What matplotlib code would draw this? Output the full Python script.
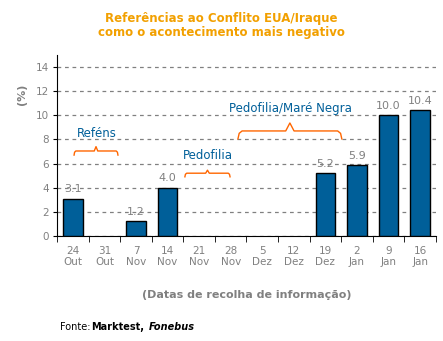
import numpy as np
import matplotlib.pyplot as plt

datas = ["24\nOut", "31\nOut", "7\nNov", "14\nNov", "21\nNov", "28\nNov",
         "5\nDez", "12\nDez", "19\nDez", "2\nJan", "9\nJan", "16\nJan"]
valores = [3.1, 0, 1.2, 4.0, 0, 0, 0, 0, 5.2, 5.9, 10.0, 10.4]

grey = "#808080"
blue = "#005f99"
orange = "#ff6600"

fig = plt.figure(figsize=(4.43, 3.41), dpi=100)
ax = fig.add_axes([0.1287, 0.308, 0.8553, 0.531])

x = np.arange(len(valores))
larguras = [1 if v > 0 else 0 for v in valores]
ax.bar(x, valores, width=0.62, color=blue, edgecolor="black", linewidth=larguras, zorder=3)

for xi, v in zip(x, valores):
    if v > 0:
        ax.text(xi, v + 0.35, f"{v:.1f}", ha="center", va="bottom", color=grey, fontsize=8)

ax.set_xlim(-0.5, 11.5)
ax.set_ylim(0, 15)
ax.set_yticks(range(0, 15, 2))
ax.set_xticks(x)
ax.set_xticklabels(datas)
ax.set_xticks(np.arange(-0.5, 12, 1), minor=True)
ax.tick_params(axis="x", which="major", length=0, pad=7, labelsize=7.5, labelcolor=grey)
ax.tick_params(axis="x", which="minor", length=4, direction="out")
ax.tick_params(axis="y", length=3, labelsize=7.5, labelcolor=grey, pad=3)
ax.yaxis.grid(True, linestyle=(0, (3, 3)), color=grey, linewidth=0.9, zorder=0)
ax.spines["top"].set_visible(False)
ax.spines["right"].set_visible(False)

ax.set_ylabel("(%)", color=grey, fontsize=8, fontweight="bold")
ax.yaxis.set_label_coords(-0.08, 0.78)
ax.set_xlabel("(Datas de recolha de informação)", color=grey, fontsize=8,
              fontweight="bold", labelpad=16)


def brace(x0, x1, yline, yend, ytip):
    xm = (x0 + x1) / 2
    d = (x1 - x0) * 0.04
    xs = [x0, x0 + d * 0.3, x0 + d, xm - d, xm, xm + d, x1 - d, x1 - d * 0.3, x1]
    ys = [yend, yline - (yline - yend) * 0.3, yline, yline, ytip, yline, yline,
          yline - (yline - yend) * 0.3, yend]
    ax.plot(xs, ys, color=orange, linewidth=1, zorder=4, clip_on=False)


brace(0.04, 1.43, 7.04, 6.7, 7.4)
ax.text(0.77, 8.5, "Reféns", color=blue, fontsize=8.5, ha="center", va="center")
brace(3.55, 4.98, 5.2, 4.9, 5.45)
ax.text(4.28, 6.7, "Pedofilia", color=blue, fontsize=8.5, ha="center", va="center")
brace(5.23, 8.52, 8.7, 8.04, 9.36)
ax.text(6.88, 10.6, "Pedofilia/Maré Negra", color=blue, fontsize=8.5, ha="center", va="center")

fig.text(0.5, 0.965, "Referências ao Conflito EUA/Iraque\ncomo o acontecimento mais negativo",
         color="#f2a000", fontsize=8.5, fontweight="bold", ha="center", va="top",
         linespacing=1.15)

fig.text(0.135, 0.04, "Fonte: ", fontsize=7, ha="left", va="center")
fig.text(0.205, 0.04, "Marktest,", fontsize=7, fontweight="bold", ha="left", va="center")
fig.text(0.335, 0.04, "Fonebus", fontsize=7, fontweight="bold", fontstyle="italic",
         ha="left", va="center")

fig.savefig("out.png", dpi=100)
